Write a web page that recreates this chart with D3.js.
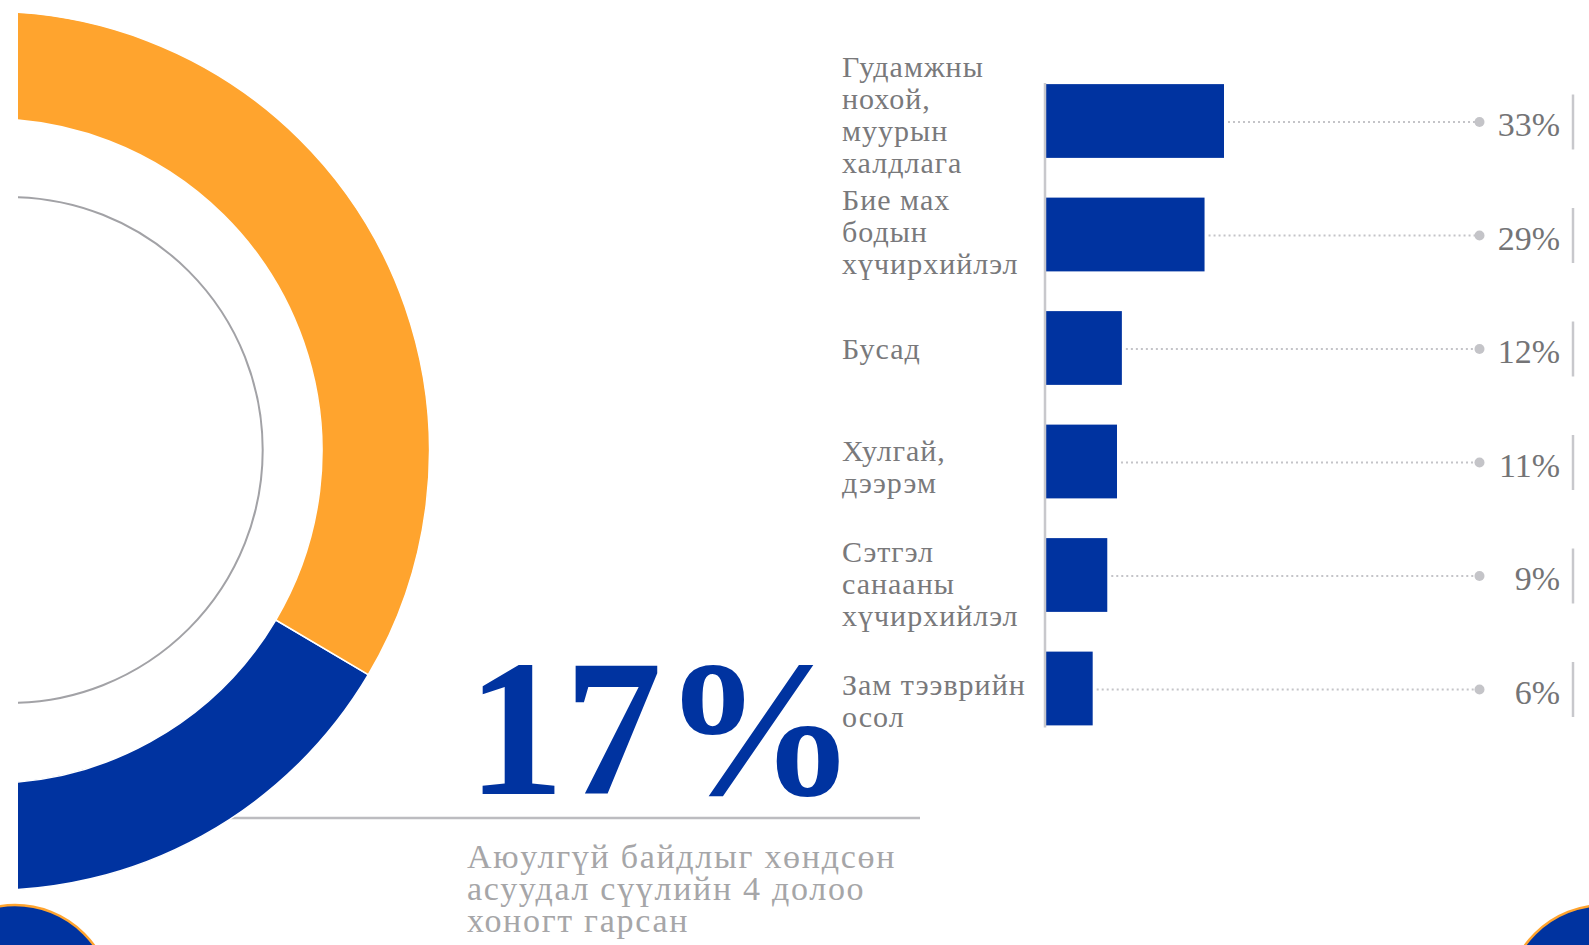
<!DOCTYPE html>
<meta charset="utf-8">
<style>
  body { margin: 0; background: #fff; }
  svg { display: block; }
  text { font-family: "Liberation Serif", "Times New Roman", serif; }
</style>
<div id="chart"></div>
<script src="https://cdn.jsdelivr.net/npm/d3@7"></script>
<script>
// data
const donutValues = [17, 83];            // blue share first, then the rest
const donutColors = ["#0033a0", "#ffa42e"];
const bigNumber = "17%";
const subtitleLines = ["Аюулгүй байдлыг хөндсөн", "асуудал сүүлийн 4 долоо", "хоногт гарсан"];

const categories = [
  ["Гудамжны", "нохой,", "муурын", "халдлага"],
  ["Бие мах", "бодын", "хүчирхийлэл"],
  ["Бусад"],
  ["Хулгай,", "дээрэм"],
  ["Сэтгэл", "санааны", "хүчирхийлэл"],
  ["Зам тээврийн", "осол"]
];
const shares = [33, 29, 12, 11, 9, 6];

const width = 1589, height = 945;
const blue = "#0033a0", lightGray = "#c4c4c8";

const svg = d3.select("#chart").append("svg")
  .attr("width", width)
  .attr("height", height);

svg.append("rect").attr("width", width).attr("height", height).attr("fill", "#fff");

// ---- left: donut, cut at the left edge
svg.append("clipPath").attr("id", "cut")
  .append("rect").attr("x", 18).attr("y", 0).attr("width", 900).attr("height", height);

// line under the big number (drawn first, the donut covers its start)
svg.append("line")
  .attr("x1", 220).attr("x2", 920)
  .attr("y1", 818).attr("y2", 818)
  .attr("stroke", "#bcbcc0").attr("stroke-width", 2.5);

const donut = svg.append("g").attr("clip-path", "url(#cut)");

donut.append("circle")
  .attr("cx", 9.7).attr("cy", 450).attr("r", 253)
  .attr("fill", "none").attr("stroke", "#a2a2a6").attr("stroke-width", 2);

const start = 120.6 * Math.PI / 180;
const pie = d3.pie().sort(null).startAngle(start).endAngle(start + 2 * Math.PI);
const arc = d3.arc().innerRadius(332).outerRadius(439.5);

donut.append("g").attr("transform", "translate(-10,451)")
  .selectAll("path").data(pie(donutValues)).join("path")
  .attr("d", arc)
  .attr("fill", (d, i) => donutColors[i])
  .attr("stroke", "#fff").attr("stroke-width", 1.5);

svg.append("text")
  .attr("x", 467).attr("y", 794)
  .attr("font-size", 195).attr("font-weight", "bold")
  .attr("fill", blue)
  .text(bigNumber);

svg.append("text")
  .attr("x", 467).attr("y", 868)
  .attr("font-size", 34).attr("fill", "#a6a6a8")
  .attr("letter-spacing", 1.7)
  .selectAll("tspan").data(subtitleLines).join("tspan")
  .attr("x", 467).attr("dy", (d, i) => i ? 32 : 0)
  .text(d => d);

// corner circles
svg.append("g").selectAll("circle").data([15, 1604]).join("circle")
  .attr("cx", d => d).attr("cy", 1002.5).attr("r", 97.5)
  .attr("fill", blue).attr("stroke", "#ffa42e").attr("stroke-width", 2.5);

// ---- right: bar chart
const y = d3.scaleBand()
  .domain(d3.range(shares.length))
  .range([64.25, 745.25])
  .paddingInner(0.35).paddingOuter(0.175);

// label rows sit on a slightly wider pitch than the bars
const yLabel = d3.scaleBand()
  .domain(d3.range(shares.length))
  .range([56.4, 759.6]);

const x = d3.scaleLinear().domain([-3.6, 33]).range([1046, 1224]);
const x0 = 1046;

const rows = svg.append("g").selectAll("g").data(shares).join("g");

rows.append("rect")
  .attr("x", x0).attr("y", (d, i) => y(i))
  .attr("width", d => x(d) - x0).attr("height", y.bandwidth())
  .attr("fill", blue);

const mid = i => y(i) + y.bandwidth() / 2;

rows.append("line")
  .attr("x1", d => x(d) + 4).attr("x2", 1476)
  .attr("y1", (d, i) => mid(i) + 1).attr("y2", (d, i) => mid(i) + 1)
  .attr("stroke", lightGray).attr("stroke-width", 2)
  .attr("stroke-dasharray", "2 3");

rows.append("circle")
  .attr("cx", 1479.5).attr("cy", (d, i) => mid(i) + 1).attr("r", 5)
  .attr("fill", lightGray);

rows.append("text")
  .attr("x", 1560).attr("y", (d, i) => mid(i) + 15)
  .attr("text-anchor", "end")
  .attr("font-size", 34).attr("fill", "#747476")
  .text(d => d + "%");

rows.append("line")
  .attr("x1", 1573).attr("x2", 1573)
  .attr("y1", (d, i) => mid(i) - 26.5).attr("y2", (d, i) => mid(i) + 28.5)
  .attr("stroke", "#c8c8cc").attr("stroke-width", 2.5);

// category labels
const lh = 32;
rows.append("text")
  .attr("font-size", 30).attr("fill", "#79797b")
  .attr("letter-spacing", 1)
  .each(function (d, i) {
    const lines = categories[i];
    const c = yLabel(i) + yLabel.bandwidth() / 2;
    const first = c - (lines.length - 1) * lh / 2 + 10;
    d3.select(this).selectAll("tspan").data(lines).join("tspan")
      .attr("x", 842)
      .attr("y", (t, k) => first + k * lh)
      .text(t => t);
  });

// axis line
svg.append("line")
  .attr("x1", 1045).attr("x2", 1045)
  .attr("y1", y(0) - 1).attr("y2", y(shares.length - 1) + y.bandwidth() + 2)
  .attr("stroke", "#c8c8cc").attr("stroke-width", 2.5);
</script>
